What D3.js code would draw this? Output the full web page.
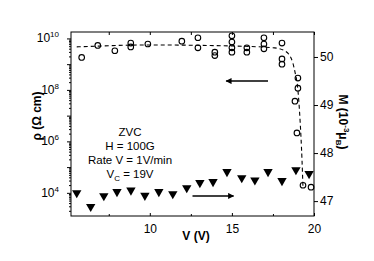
<!DOCTYPE html>
<html>
<head>
<meta charset="utf-8">
<script src="https://cdn.jsdelivr.net/npm/d3@7"></script>
<style>
  body { margin: 0; background: #fff; }
  svg { font-family: "Liberation Sans", Arial, sans-serif; }
</style>
</head>
<body>
<div class="chart"></div>
<script>
// resistivity (triangles, left log axis)
const rhoV = [5.55, 6.4, 7.2, 8.0, 8.85, 9.7, 10.55, 11.4, 12.25, 13.05, 13.85, 14.7, 15.6, 16.4, 17.2, 18.05, 18.9, 19.7]
const rhoVal = [1.0e4, 2.9e3, 7.6e3, 1.1e4, 1.26e4, 7.9e3, 1.1e4, 9.1e3, 1.55e4, 2.45e4, 2.7e4, 6.6e4, 3.8e4, 3.1e4, 6.6e4, 2.95e4, 7.8e4, 5.5e4]

// magnetisation (open circles, right axis)
const mV = [5.85, 6.83, 7.87, 8.84, 8.84, 9.88, 11.95, 12.93, 12.93, 13.96, 13.96, 15.0, 15.0, 15.0, 15.0, 15.91, 15.91, 16.95, 16.95, 16.95, 18.05, 18.05, 18.05, 19.02, 19.02, 18.84, 18.96, 19.33, 19.82]
const mVal = [49.99, 50.24, 50.13, 50.29, 50.21, 50.27, 50.33, 50.40, 50.19, 50.10, 50.03, 50.44, 50.31, 50.19, 50.10, 50.19, 50.10, 50.40, 50.27, 50.17, 50.29, 49.96, 49.85, 49.56, 49.35, 49.08, 48.42, 47.33, 47.29]

// dashed fit through M
const fitV = [5.55, 10, 14.9, 17.6, 18.2, 18.6, 18.84, 19.02, 19.15, 19.27, 19.33]
const fitM = [50.21, 50.25, 50.23, 50.19, 50.13, 49.98, 49.69, 49.31, 48.69, 47.85, 47.27]

const xTicks = [10, 15, 20]
const xMinor = [7.5, 12.5, 17.5]
const rhoTicks = [1e4, 1e6, 1e8, 1e10]
const mTicks = [47, 48, 49, 50]

const notes = ["ZVC", "H = 100G", "Rate V = 1V/min", "V_C = 19V"]

const width = 374, height = 261
const margin = { top: 32, right: 60, bottom: 45, left: 71 }
const pw = width - margin.left - margin.right
const ph = height - margin.top - margin.bottom

const svg = d3.select("div.chart").append("svg")
    .attr("width", width)
    .attr("height", height)

const x = d3.scaleLinear().domain([5.2, 20]).range([margin.left, margin.left + pw])
const yL = d3.scaleLog().domain([Math.pow(10, 3.1), Math.pow(10, 10.25)]).range([margin.top + ph, margin.top])
const yR = d3.scaleLinear().domain([46.69, 50.52]).range([margin.top + ph, margin.top])

// frame
svg.append("rect")
    .attr("x", margin.left).attr("y", margin.top)
    .attr("width", pw).attr("height", ph)
    .attr("fill", "none").attr("stroke", "#000").attr("stroke-width", 1)

// bottom / top ticks
const bottomAxis = d3.axisBottom(x).tickValues(xTicks).tickSizeInner(-3).tickSizeOuter(0).tickPadding(8)
svg.append("g")
    .attr("transform", `translate(0,${margin.top + ph})`)
    .call(bottomAxis)
    .call(g => g.select(".domain").remove())
    .call(g => g.selectAll("text").attr("font-size", 12).attr("fill", "#000").attr("font-family", "Liberation Sans, Arial, sans-serif"))
svg.append("g")
    .attr("transform", `translate(0,${margin.top + ph})`)
    .call(d3.axisBottom(x).tickValues(xMinor).tickSizeInner(-2).tickSizeOuter(0).tickFormat(""))
    .call(g => g.select(".domain").remove())
svg.append("g")
    .attr("transform", `translate(0,${margin.top})`)
    .call(d3.axisTop(x).tickValues(xTicks.concat(xMinor)).tickSizeInner(-3).tickSizeOuter(0).tickFormat(""))
    .call(g => g.select(".domain").remove())

// left log axis
const decades = d3.range(4, 11).map(p => Math.pow(10, p))
const minorL = []
d3.range(3, 11).forEach(p => {
    for (let k = 2; k < 10; k++) {
        const v = k * Math.pow(10, p)
        if (v >= yL.domain()[0] && v <= yL.domain()[1]) minorL.push(v)
    }
})
svg.append("g")
    .attr("transform", `translate(${margin.left},0)`)
    .call(d3.axisLeft(yL).tickValues(decades).tickSizeInner(4).tickSizeOuter(0).tickFormat(""))
    .call(g => g.select(".domain").remove())
svg.append("g")
    .attr("transform", `translate(${margin.left},0)`)
    .call(d3.axisLeft(yL).tickValues(minorL).tickSizeInner(2).tickSizeOuter(0).tickFormat(""))
    .call(g => g.select(".domain").remove())
const lLab = svg.append("g").selectAll("text")
    .data(rhoTicks)
    .join("text")
    .attr("x", margin.left - 12)
    .attr("y", d => yL(d) + 4)
    .attr("text-anchor", "end")
    .attr("font-size", 12)
lLab.append("tspan").text("10")
lLab.append("tspan")
    .attr("font-size", 8)
    .attr("dy", -5)
    .text(d => Math.round(Math.log10(d)))

// right axis
svg.append("g")
    .attr("transform", `translate(${margin.left + pw},0)`)
    .call(d3.axisRight(yR).tickValues(mTicks).tickFormat(d3.format("d")).tickSizeInner(4).tickSizeOuter(0).tickPadding(2))
    .call(g => g.select(".domain").remove())
    .call(g => g.selectAll("text").attr("font-size", 12).attr("fill", "#000").attr("font-family", "Liberation Sans, Arial, sans-serif"))

// axis titles
svg.append("text")
    .attr("x", 196).attr("y", 240)
    .attr("text-anchor", "middle")
    .attr("font-size", 12).attr("font-weight", "bold")
    .text("V (V)")
svg.append("text")
    .attr("transform", `translate(41,${(margin.top + margin.top + ph) / 2 - 8}) rotate(-90)`)
    .attr("text-anchor", "middle")
    .attr("font-size", 12).attr("font-weight", "bold")
    .text("\u03c1 (\u03a9 cm)")
const rt = svg.append("text")
    .attr("transform", `translate(339,${(margin.top + margin.top + ph) / 2 - 2}) rotate(90)`)
    .attr("text-anchor", "middle")
    .attr("font-size", 12).attr("font-weight", "bold")
rt.append("tspan").text("M (10")
rt.append("tspan").attr("font-size", 8).attr("dy", -5).text("-3")
rt.append("tspan").attr("dy", 5).text("\u03bc")
rt.append("tspan").attr("font-size", 8).attr("dy", 3).text("B")
rt.append("tspan").attr("dy", -3).text(")")

// fit line
svg.append("path")
    .datum(fitV.map((v, i) => [v, fitM[i]]))
    .attr("fill", "none")
    .attr("stroke", "#000")
    .attr("stroke-width", 1.1)
    .attr("stroke-dasharray", "4,3")
    .attr("d", d3.line().x(d => x(d[0])).y(d => yR(d[1])).curve(d3.curveMonotoneX))

// M points
svg.append("g").selectAll("circle")
    .data(mV.map((v, i) => [v, mVal[i]]))
    .join("circle")
    .attr("cx", d => x(d[0]))
    .attr("cy", d => yR(d[1]))
    .attr("r", 2.8)
    .attr("fill", "none")
    .attr("stroke", "#000")
    .attr("stroke-width", 1.1)

// rho points
const tri = d3.symbol().type(d3.symbolTriangle).size(38)
svg.append("g").selectAll("path")
    .data(rhoV.map((v, i) => [v, rhoVal[i]]))
    .join("path")
    .attr("transform", d => `translate(${x(d[0])},${yL(d[1])}) rotate(180)`)
    .attr("d", tri)
    .attr("fill", "#000")

// arrows
const defs = svg.append("defs")
defs.append("marker")
    .attr("id", "head")
    .attr("viewBox", "0 0 10 10")
    .attr("refX", 9).attr("refY", 5)
    .attr("markerWidth", 6).attr("markerHeight", 4)
    .attr("orient", "auto")
    .append("path").attr("d", "M0,0L10,5L0,10z").attr("fill", "#000")
const arrows = [
    { from: [17.2, 2.2e8], to: [14.65, 2.2e8] },
    { from: [12.6, 7.6e3], to: [15.1, 7.6e3] }
]
svg.append("g").selectAll("line")
    .data(arrows)
    .join("line")
    .attr("x1", d => x(d.from[0])).attr("y1", d => yL(d.from[1]))
    .attr("x2", d => x(d.to[0])).attr("y2", d => yL(d.to[1]))
    .attr("stroke", "#000").attr("stroke-width", 1.5)
    .attr("marker-end", "url(#head)")

// annotation block
const nt = svg.append("g").selectAll("text")
    .data(notes)
    .join("text")
    .attr("x", 130)
    .attr("y", (d, i) => 136 + i * 14)
    .attr("text-anchor", "middle")
    .attr("font-size", 11.5)
nt.each(function(d) {
    const t = d3.select(this)
    if (d.startsWith("V_C")) {
        t.append("tspan").text("V")
        t.append("tspan").attr("font-size", 8).attr("dy", 3).text("C")
        t.append("tspan").attr("dy", -3).text(d.slice(3))
    } else {
        t.text(d)
    }
})
</script>
</body>
</html>
